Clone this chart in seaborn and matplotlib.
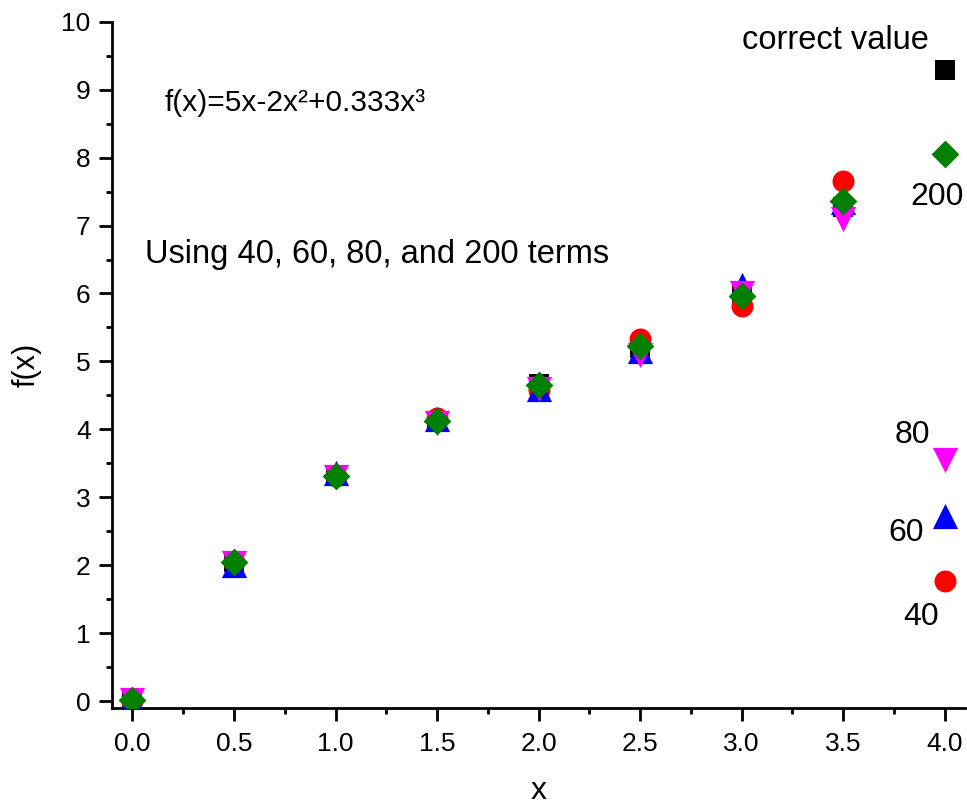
"""
Series approximation of f(x)=5x-2x^2+0.333x^3 with different numbers of terms.
Scatter of the partial sums vs. the correct value.
"""

import pandas as pd
import matplotlib
matplotlib.use("Agg")
import matplotlib.pyplot as plt
from matplotlib.ticker import MultipleLocator
import seaborn as sns

# ---------------------------------------------------------
# Data
# ---------------------------------------------------------
x_vals = [0.0, 0.5, 1.0, 1.5, 2.0, 2.5, 3.0, 3.5, 4.0]
correct = [0.00, 2.04, 3.33, 4.12, 4.67, 5.20, 5.99, 7.28, 9.29]
terms40 = [0.00, 2.05, 3.31, 4.16, 4.58, 5.33, 5.82, 7.66, 1.77]
terms60 = [-0.02, 2.00, 3.36, 4.15, 4.60, 5.15, 6.12, 7.34, 2.72]
terms80 = [0.01, 2.03, 3.30, 4.10, 4.60, 5.10, 6.00, 7.10, 3.55]
terms200 = [0.02, 2.04, 3.31, 4.12, 4.65, 5.23, 5.96, 7.36, 8.05]

x_ticks = [0.0, 0.5, 1.0, 1.5, 2.0, 2.5, 3.0, 3.5, 4.0]
y_ticks = list(range(0, 11))

sns.set_style("ticks")
plt.rcParams["font.family"] = ["Liberation Sans", "DejaVu Sans"]
plt.rcParams["text.color"] = "black"
plt.rcParams["axes.labelcolor"] = "black"
plt.rcParams["xtick.color"] = "black"
plt.rcParams["ytick.color"] = "black"

fig = plt.figure(figsize=(9.67, 8.08), dpi=100)
ax = fig.add_axes([0.116, 0.124, 0.882, 0.849])

# draw order: black at the back, green diamonds on top
series = [
    (correct, "s", "black", 210),
    (terms40, "o", "#FF0000", 250),
    (terms60, "^", "#0000FF", 330),
    (terms80, "v", "#FF00FF", 330),
    (terms200, "D", "#008000", 200),
]
for values, marker, color, size in series:
    df = pd.DataFrame({"x": x_vals, "y": values})
    sns.scatterplot(data=df, x="x", y="y", marker=marker, color=color,
                    s=size, linewidth=0, ax=ax, zorder=3)

ax.set_xlim(-0.1, 4.1)
ax.set_ylim(-0.1, 10)
ax.set_xticks(x_ticks)
ax.set_xticklabels([f"{v:.1f}" for v in x_ticks])
ax.set_yticks(y_ticks)
ax.xaxis.set_minor_locator(MultipleLocator(0.25))
ax.yaxis.set_minor_locator(MultipleLocator(0.5))

sns.despine(ax=ax)
for side in ["left", "bottom"]:
    ax.spines[side].set_linewidth(2)
    ax.spines[side].set_color("black")
ax.tick_params(which="major", direction="out", length=9.5, width=2,
               labelsize=19, pad=6)
ax.tick_params(axis="x", which="major", pad=8)
ax.tick_params(which="minor", direction="out", length=4.5, width=2)

ax.set_xlabel("x", fontsize=23, labelpad=14)
ax.set_ylabel("f(x)", fontsize=22, labelpad=14)

# annotations
ax.text(3.46, 9.73, "correct value", fontsize=23.5, ha="center", va="center")
ax.text(0.16, 8.81, "f(x)=5x-2x²+0.333x³", fontsize=21.5, ha="left", va="center")
ax.text(0.06, 6.57, "Using 40, 60, 80, and 200 terms", fontsize=23.5,
        ha="left", va="center")
ax.text(3.96, 7.42, "200", fontsize=23, ha="center", va="center")
ax.text(3.84, 3.92, "80", fontsize=23, ha="center", va="center")
ax.text(3.81, 2.47, "60", fontsize=23, ha="center", va="center")
ax.text(3.885, 1.24, "40", fontsize=23, ha="center", va="center")

plt.savefig("out.png", dpi=100)
plt.close()
